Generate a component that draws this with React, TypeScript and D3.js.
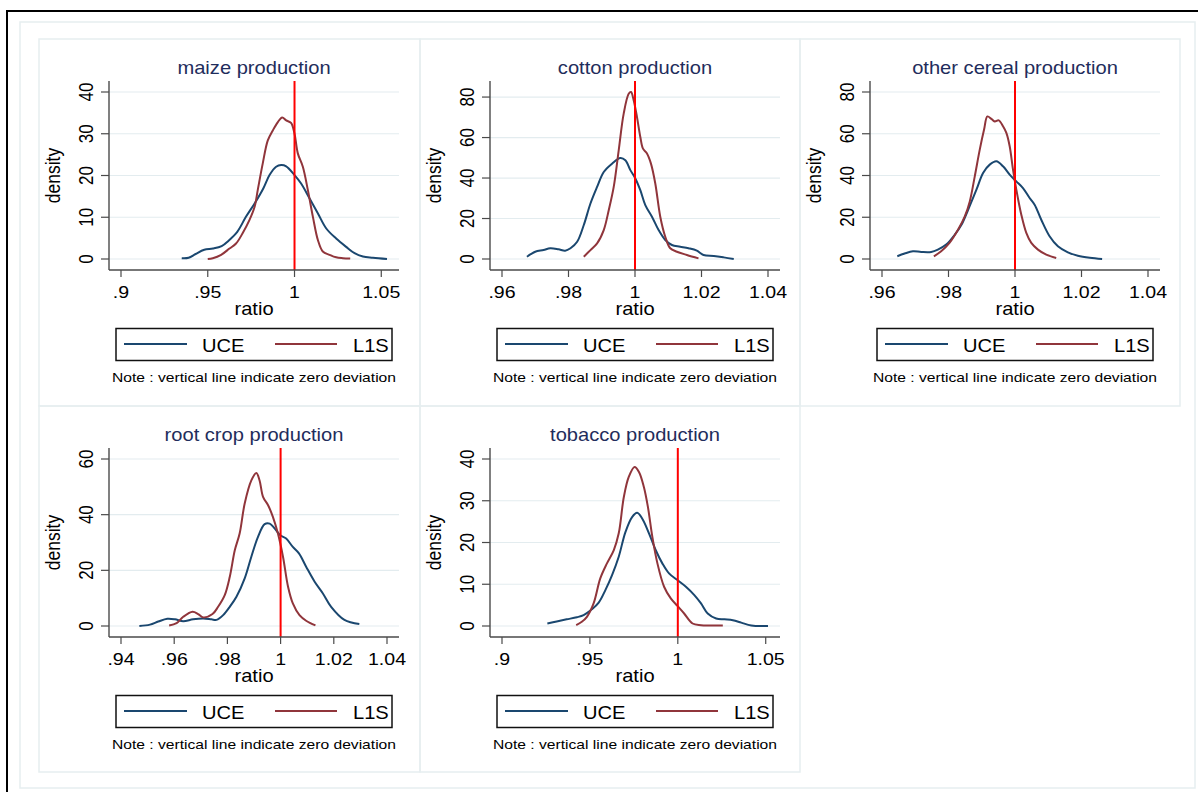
import React from 'react'
import * as d3 from 'd3'

type Pt = [number, number]

// kernel density curves: [ratio, density]
const maizeUCE: Pt[] = [
  [0.935, 0.2], [0.939, 0.3], [0.943, 1.2], [0.948, 2.2], [0.953, 2.5], [0.958, 3.1],
  [0.962, 4.4], [0.967, 6.5], [0.972, 10.1], [0.977, 13.3], [0.982, 16.9], [0.9856, 20.1],
  [0.9894, 22.1], [0.9923, 22.5], [0.9952, 22.2], [1.0, 20.1], [1.0038, 18.1], [1.0087, 14.5],
  [1.0135, 10.9], [1.0183, 7.3], [1.024, 4.9], [1.0298, 2.9], [1.0346, 1.4], [1.0394, 0.6],
  [1.0452, 0.3], [1.0533, 0.0],
]
const maizeL1S: Pt[] = [
  [0.95, 0], [0.9529, 0.2], [0.9577, 1.0], [0.9625, 2.5], [0.9663, 3.7], [0.97, 6.1],
  [0.974, 9.3], [0.977, 12.5], [0.9788, 16.5], [0.9817, 22.9], [0.9846, 28.4], [0.9875, 30.8],
  [0.9904, 32.8], [0.9929, 33.9], [0.9952, 33.2], [0.998, 32.6], [1.0, 30.0], [1.0019, 25.3],
  [1.0048, 22.1], [1.0077, 16.5], [1.0106, 10.1], [1.0135, 4.5], [1.0163, 1.8], [1.0202, 1.0],
  [1.024, 0.4], [1.0279, 0.2], [1.0321, 0.1],
]
const cottonUCE: Pt[] = [
  [0.9675, 1.1], [0.97, 3.6], [0.9725, 4.4], [0.9745, 5.3], [0.977, 4.8], [0.979, 4.1],
  [0.9806, 5.3], [0.9826, 8.5], [0.9846, 16.8], [0.9866, 27.4], [0.9886, 35.6], [0.9906, 43.0],
  [0.9931, 47.1], [0.9956, 49.9], [0.9971, 48.8], [0.9986, 43.9], [1.0001, 39.8], [1.0016, 34.0],
  [1.0031, 26.6], [1.0051, 20.9], [1.0071, 14.3], [1.0091, 9.4], [1.0111, 6.9], [1.0136, 6.1],
  [1.0161, 5.3], [1.0186, 4.1], [1.0206, 2.0], [1.0237, 1.5], [1.0267, 0.8], [1.0297, 0],
]
const cottonL1S: Pt[] = [
  [0.9846, 1.1], [0.9866, 4.4], [0.9886, 7.7], [0.9906, 14.3], [0.9921, 24.1], [0.9936, 35.6],
  [0.9951, 53.7], [0.9966, 71.8], [0.9981, 81.6], [0.9988, 82.5], [0.9996, 78.4], [1.0006, 70.1],
  [1.0016, 60.3], [1.0024, 54.5], [1.0036, 52.1], [1.0048, 47.1], [1.0061, 37.3], [1.0076, 20.9],
  [1.0091, 11.0], [1.0106, 5.3], [1.0126, 3.6], [1.0156, 2.0], [1.0191, 0.3],
]
const cerealUCE: Pt[] = [
  [0.9646, 1.3], [0.9668, 2.6], [0.9693, 3.7], [0.9718, 3.4], [0.9748, 3.4], [0.9768, 4.5],
  [0.9793, 6.9], [0.9819, 11.7], [0.9839, 16.4], [0.9859, 23.6], [0.9884, 33.2], [0.9904, 41.2],
  [0.9924, 45.2], [0.9944, 46.8], [0.9964, 44.4], [0.9984, 40.4], [1.0004, 37.2], [1.0024, 34.0],
  [1.0044, 29.2], [1.0059, 26.0], [1.0079, 18.8], [1.0104, 10.9], [1.0129, 6.1], [1.0159, 3.2],
  [1.0189, 1.6], [1.0225, 0.6], [1.0262, 0],
]
const cerealL1S: Pt[] = [
  [0.9756, 1.3], [0.9778, 3.7], [0.9803, 7.7], [0.9829, 14.1], [0.9849, 20.4], [0.9864, 27.6],
  [0.9879, 39.6], [0.9894, 52.4], [0.9907, 62.0], [0.9917, 68.3], [0.9929, 67.1], [0.9939, 65.9],
  [0.9951, 66.4], [0.9964, 63.6], [0.9974, 60.4], [0.9984, 54.0], [0.9994, 42.8], [1.0004, 33.2],
  [1.0019, 21.2], [1.0034, 12.5], [1.0049, 7.7], [1.0069, 4.5], [1.0094, 2.1], [1.0124, 0.5],
]
const rootUCE: Pt[] = [
  [0.9469, 0], [0.9509, 0.5], [0.954, 1.6], [0.9574, 2.6], [0.9603, 2.4], [0.9634, 1.7],
  [0.9671, 2.4], [0.9709, 2.7], [0.974, 2.4], [0.9759, 2.2], [0.9784, 3.9], [0.9809, 6.9],
  [0.9834, 10.5], [0.9865, 17.1], [0.989, 24.9], [0.9915, 32.0], [0.994, 36.6], [0.9959, 36.8],
  [0.9978, 35.0], [0.9999, 32.6], [1.0021, 31.4], [1.0046, 28.4], [1.0069, 26.1], [1.0096, 21.3],
  [1.0128, 15.9], [1.0159, 11.7], [1.019, 6.9], [1.024, 2.2], [1.0296, 0.7],
]
const rootL1S: Pt[] = [
  [0.9581, 0.2], [0.9609, 1.0], [0.9634, 3.3], [0.9669, 5.1], [0.969, 4.3], [0.9709, 3.1],
  [0.9744, 4.3], [0.9765, 6.9], [0.979, 11.1], [0.9809, 17.7], [0.9828, 27.3], [0.9846, 33.2],
  [0.9865, 44.0], [0.989, 52.3], [0.9909, 55.0], [0.9921, 52.3], [0.9934, 46.4], [0.9953, 43.4],
  [0.9971, 39.2], [0.999, 33.2], [1.0009, 24.9], [1.0028, 14.1], [1.0046, 8.1], [1.0071, 3.9],
  [1.0096, 1.9], [1.0131, 0.2],
]
const tobaccoUCE: Pt[] = [
  [0.9258, 0.6], [0.9311, 1.1], [0.9368, 1.6], [0.9426, 2.1], [0.9464, 2.6], [0.9511, 4.0],
  [0.955, 5.6], [0.9588, 8.6], [0.9626, 12.2], [0.9664, 16.6], [0.9702, 22.5], [0.974, 26.1],
  [0.9769, 27.1], [0.9798, 25.7], [0.9836, 22.2], [0.9874, 18.2], [0.9912, 15.0], [0.995, 12.6],
  [0.9998, 11.0], [1.0046, 9.4], [1.0094, 7.4], [1.0132, 5.4], [1.017, 3.0], [1.0218, 1.8],
  [1.0265, 1.6], [1.0313, 1.4], [1.0361, 0.8], [1.0418, 0.1], [1.0513, 0],
]
const tobaccoL1S: Pt[] = [
  [0.9422, 0.2], [0.9454, 1.0], [0.9483, 2.2], [0.9521, 5.4], [0.9559, 11.4], [0.9597, 15.0],
  [0.9636, 18.2], [0.9664, 22.2], [0.9693, 30.9], [0.9721, 35.7], [0.9754, 38.1], [0.9779, 36.9],
  [0.9807, 33.3], [0.983, 28.5], [0.9855, 21.4], [0.9884, 15.0], [0.9922, 9.4], [0.996, 6.6],
  [0.9998, 4.8], [1.0036, 3.0], [1.0084, 0.6], [1.0132, 0.2], [1.0256, 0.1],
]

const titles = ['maize production', 'cotton production', 'other cereal production', 'root crop production', 'tobacco production']
const xTickSets = [
  [0.9, 0.95, 1, 1.05],
  [0.96, 0.98, 1, 1.02, 1.04],
  [0.96, 0.98, 1, 1.02, 1.04],
  [0.94, 0.96, 0.98, 1, 1.02, 1.04],
  [0.9, 0.95, 1, 1.05],
]
const yTickSets = [
  [0, 10, 20, 30, 40],
  [0, 20, 40, 60, 80],
  [0, 20, 40, 60, 80],
  [0, 20, 40, 60],
  [0, 10, 20, 30, 40],
]
const uceSeries = [maizeUCE, cottonUCE, cerealUCE, rootUCE, tobaccoUCE]
const l1sSeries = [maizeL1S, cottonL1S, cerealL1S, rootL1S, tobaccoL1S]
const seriesNames = ['UCE', 'L1S']
const zeroLine = 1
const note = 'Note : vertical line indicate zero deviation'

const FONT = '"Liberation Sans", Arial, Helvetica, sans-serif'
const SX = 1.15
const BLUE = '#1a476f'
const MAROON = '#90353b'
const TITLE = '#1f2d5c'
const GRID = '#e3ecef'
const FRAME = '#e6eef0'

const PL = 70, PR = 360, PT = 42, PB = 231

const fmt = (d: number) => {
  const s = String(+d.toFixed(3))
  return s.startsWith('0.') ? s.slice(1) : s
}

function Label({ x, y, size, anchor = 'middle', fill = '#000', rot = false, children }: any) {
  return (
    <text
      transform={`translate(${x},${y}) scale(${SX},1)${rot ? ' rotate(-90)' : ''}`}
      fontSize={size}
      textAnchor={anchor}
      fill={fill}
      fontFamily={FONT}
    >
      {children}
    </text>
  )
}

function Panel({ left, top, w, h, title, xTicks, yTicks, uce, l1s }: any) {
  const allX = [...xTicks, ...uce.map((d: Pt) => d[0]), ...l1s.map((d: Pt) => d[0])]
  const x = d3.scaleLinear()
    .domain(d3.extent(allX) as [number, number])
    .range([PL + 12, PR - 12])
  const yMax = Math.max(d3.max(yTicks as number[])!, d3.max([...uce, ...l1s], (d: Pt) => d[1])!)
  const y = d3.scaleLinear().domain([0, yMax]).range([PB - 11, PT + 11])
  const line = d3.line<Pt>()
    .x(d => x(d[0]))
    .y(d => y(d[1]))
    .curve(d3.curveCatmullRom.alpha(0.5))
  const cx = (PL + PR) / 2

  return (
    <g transform={`translate(${left},${top})`}>
      <rect x={0} y={0} width={w} height={h} fill="none" stroke={FRAME} strokeWidth={1.5} />
      <Label x={cx} y={35} size={17.5} fill={TITLE}>{title}</Label>

      {yTicks.map((t: number) => (
        <line key={'g' + t} x1={PL} x2={PR} y1={y(t)} y2={y(t)} stroke={GRID} strokeWidth={1.2} />
      ))}

      <path d={line(uce) ?? ''} fill="none" stroke={BLUE} strokeWidth={2} />
      <path d={line(l1s) ?? ''} fill="none" stroke={MAROON} strokeWidth={2} />
      <line x1={x(zeroLine)} x2={x(zeroLine)} y1={PT} y2={PB} stroke="#ff0000" strokeWidth={2} />

      <line x1={PL} x2={PL} y1={PT} y2={PB} stroke="#4a4a4a" strokeWidth={1.4} />
      <line x1={PL} x2={PR} y1={PB} y2={PB} stroke="#4a4a4a" strokeWidth={1.4} />

      {yTicks.map((t: number) => (
        <g key={'y' + t}>
          <line x1={PL - 8} x2={PL} y1={y(t)} y2={y(t)} stroke="#4a4a4a" strokeWidth={1.2} />
          <Label x={54} y={y(t)} size={17} rot>{fmt(t)}</Label>
        </g>
      ))}
      {xTicks.map((t: number) => (
        <g key={'x' + t}>
          <line x1={x(t)} x2={x(t)} y1={PB} y2={PB + 7} stroke="#4a4a4a" strokeWidth={1.2} />
          <Label x={x(t)} y={258.5} size={17}>{fmt(t)}</Label>
        </g>
      ))}
      <Label x={cx} y={276} size={17.5}>ratio</Label>
      <Label x={21} y={(PT + PB) / 2} size={17.5} rot>density</Label>

      <rect x={77} y={289.5} width={276} height={32} fill="#fff" stroke="#111" strokeWidth={1.5} />
      <line x1={85} x2={148} y1={305} y2={305} stroke={BLUE} strokeWidth={2} />
      <Label x={163} y={313} size={17.5} anchor="start">{seriesNames[0]}</Label>
      <line x1={236} x2={298} y1={305} y2={305} stroke={MAROON} strokeWidth={2} />
      <Label x={314} y={313} size={17.5} anchor="start">{seriesNames[1]}</Label>

      <Label x={cx} y={343} size={13.6}>{note}</Label>
    </g>
  )
}

export default function App() {
  const colLeft = [39, 420, 800]
  const rowTop = [39, 406]
  return (
    <svg
      width={1198}
      height={792}
      style={{ position: 'absolute', left: 0, top: 0, background: '#fff' }}
    >
      <rect x={0} y={0} width={1198} height={792} fill="#fff" />
      <rect x={7} y={11} width={1300} height={900} fill="none" stroke="#000" strokeWidth={2} />
      <rect x={20} y={22} width={1175} height={766} fill="none" stroke={FRAME} strokeWidth={1.5} />
      {titles.map((t, i) => (
        <Panel
          key={t}
          left={colLeft[i % 3]}
          top={rowTop[Math.floor(i / 3)]}
          w={i % 3 === 0 ? 381 : 380}
          h={i < 3 ? 367 : 366}
          title={t}
          xTicks={xTickSets[i]}
          yTicks={yTickSets[i]}
          uce={uceSeries[i]}
          l1s={l1sSeries[i]}
        />
      ))}
    </svg>
  )
}
